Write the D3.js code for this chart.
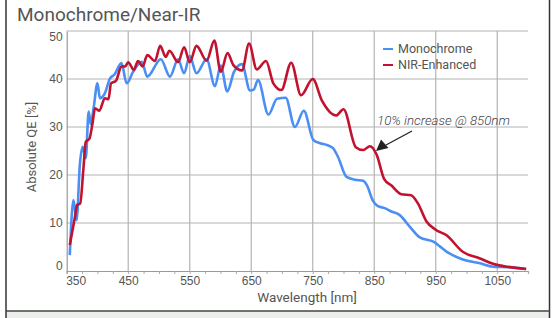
<!DOCTYPE html>
<html>
<head>
<meta charset="utf-8">
<style>
  body { margin: 0; background: #fff; }
  svg { display: block; font-family: Roboto, "Noto Sans", sans-serif; }
</style>
</head>
<body>
<svg id="chart" width="555" height="318"></svg>
<script src="https://cdn.jsdelivr.net/npm/d3@7"></script>
<script>
// tick labels
const xTicks = [350, 450, 550, 650, 750, 850, 950, 1050];
const yTicks = [0, 10, 20, 30, 40, 50];
const seriesNames = ["Monochrome", "NIR-Enhanced"];

// Monochrome: wavelength [nm] and QE [%]
const monoWl = [355, 361, 366, 371.6, 376, 381, 385.7, 389, 394, 400, 404, 412, 420, 428, 439, 447.5, 458, 472, 481,
  503, 518, 531, 541, 550, 561, 577.5, 591, 600.5, 611, 622, 635, 648, 654, 661, 678, 692, 706, 721, 735.5, 751, 762,
  772, 783, 791, 805, 819, 832, 838, 848, 856, 867, 878, 891, 908, 924, 946, 968, 994, 1022, 1043, 1070, 1097];
const monoQE = [3.3, 14.8, 10.6, 22.5, 25.9, 23.5, 33.2, 30.6, 34.2, 39.1, 36, 37, 40, 41, 43.3, 39.1, 41.5, 43.6, 40.5,
  44.1, 40.5, 44.1, 41.2, 44.8, 41.2, 44.1, 38.5, 42.8, 37.4, 41.5, 43.1, 37.6, 37.8, 39.8, 32.6, 35.9, 36.1, 30, 33.4, 27.3, 26.6,
  26.3, 25.6, 23.8, 19.6, 19, 18.8, 17.9, 14.6, 13.5, 13.1, 12.4, 11.7, 9.2, 7, 6.1, 4, 2.4, 1.6, 0.9, 0.8, 0.4];

// NIR-Enhanced
const nirWl = [355, 363.5, 367, 372, 377, 381, 387, 392, 396, 403, 412, 418, 422, 430, 439, 445, 450, 459, 466, 473.5,
  481, 493.5, 502, 511, 517, 531, 541, 550, 561, 577.5, 590, 600.5, 611.5, 621, 635, 646.5, 659, 674, 686, 699, 715,
  731, 750, 765, 788, 800, 820, 832, 843, 854, 866, 878, 894, 910, 921, 935, 951, 967, 994, 1022, 1043, 1065, 1097];
const nirQE = [5.4, 11.3, 13.75, 14.1, 21, 26.9, 27.6, 30.8, 33.9, 33.4, 36, 35.8, 39.1, 39.6, 42.6, 42.6, 43.5, 41.9, 43.75, 42.6,
  45, 43.75, 46.9, 44.6, 45.9, 43.5, 46.6, 43.5, 46.9, 43.8, 48, 41.5, 45.4, 42.9, 41.8, 47.4, 42, 43.75, 39.1, 37.7, 43.4,
  36.6, 40, 35.5, 32.4, 33.7, 25.8, 25.2, 26, 24.2, 19.2, 17.8, 16, 15.8, 14.1, 10.3, 8.5, 7.5, 4, 2.6, 1.5, 0.9, 0.4];

const colors = ["#4a8ff3", "#c1122f"];
const svg = d3.select("#chart");

const x = d3.scaleLinear().domain([350, 1100]).range([66.7, 528]);
const y = d3.scaleLinear().domain([0, 50]).range([271, 31]);

// frame
svg.append("rect").attr("x", 6).attr("y", 311).attr("width", 543).attr("height", 8).attr("fill", "#eceeec");
svg.append("line").attr("x1", 6).attr("x2", 6).attr("y1", 0).attr("y2", 318).attr("stroke", "#333").attr("stroke-width", 1.5);
svg.append("line").attr("x1", 549.5).attr("x2", 549.5).attr("y1", 0).attr("y2", 318).attr("stroke", "#333").attr("stroke-width", 1.5);
svg.append("line").attr("x1", 6).attr("x2", 550).attr("y1", 311).attr("y2", 311).attr("stroke", "#444").attr("stroke-width", 1.5);

// title
svg.append("text").attr("x", 17).attr("y", 21).attr("font-size", 19).attr("fill", "#555").text("Monochrome/Near-IR");

// gridlines
svg.append("g").selectAll("line").data(yTicks.slice(1)).join("line")
  .attr("x1", x(350)).attr("x2", x(1100)).attr("y1", d => y(d)).attr("y2", d => y(d))
  .attr("stroke", "#b4b4b4").attr("stroke-width", 1.2);
svg.append("g").selectAll("line").data(xTicks.slice(1)).join("line")
  .attr("x1", d => x(d)).attr("x2", d => x(d)).attr("y1", y(0)).attr("y2", y(50))
  .attr("stroke", "#b4b4b4").attr("stroke-width", 1.2);

// x axis
const xAxis = svg.append("g").attr("transform", `translate(0,${y(0)})`)
  .call(d3.axisBottom(x).tickValues(d3.range(350, 1101, 25)).tickSize(3).tickFormat(d => xTicks.includes(d) ? d : ""));
xAxis.select(".domain").attr("stroke", "#999").attr("stroke-width", 1.2);
xAxis.selectAll(".tick line").attr("stroke", "#aaa");
xAxis.selectAll(".tick text").attr("font-size", 12).attr("fill", "#555").attr("font-family", null).attr("dy", "0.68em")
  .filter(d => d === 350).attr("text-anchor", "start").attr("dx", -1);

// y axis
const yAxis = svg.append("g").attr("transform", `translate(${x(350)},0)`)
  .call(d3.axisLeft(y).tickValues(yTicks).tickSize(0).tickPadding(4));
yAxis.select(".domain").attr("stroke", "#999").attr("stroke-width", 1.2);
yAxis.selectAll(".tick text").attr("font-size", 12).attr("fill", "#555").attr("font-family", null)
  .attr("dy", d => d === 0 ? "-0.1em" : d === 50 ? "0.75em" : "0.32em");

// axis titles
svg.append("text").attr("x", 307).attr("y", 301.5).attr("text-anchor", "middle")
  .attr("font-size", 13.5).attr("fill", "#555").text("Wavelength [nm]");
svg.append("text").attr("transform", "translate(36,147) rotate(-90)").attr("text-anchor", "middle")
  .attr("font-size", 13).attr("fill", "#555").text("Absolute QE [%]");

// lines
const line = d3.line().x(d => x(d[0])).y(d => y(d[1])).curve(d3.curveMonotoneX);
const series = [d3.zip(monoWl, monoQE), d3.zip(nirWl, nirQE)];
svg.append("g").selectAll("path").data(series).join("path")
  .attr("d", line).attr("fill", "none")
  .attr("stroke", (d, i) => colors[i]).attr("stroke-width", 2.6).attr("stroke-linejoin", "round");

// legend
const legend = svg.append("g").selectAll("g").data(seriesNames).join("g")
  .attr("transform", (d, i) => `translate(383,${49 + i * 16})`);
legend.append("line").attr("x1", 0).attr("x2", 10).attr("stroke", (d, i) => colors[i]).attr("stroke-width", 2);
legend.append("text").attr("x", 15).attr("dy", "0.35em").attr("font-size", 12.5).attr("fill", "#555").text(d => d);

// annotation
svg.append("text").attr("x", 377).attr("y", 125).attr("font-size", 13.3).attr("font-style", "italic")
  .attr("font-weight", 300).attr("fill", "#444").text("10% increase @ 850nm");
svg.append("line").attr("x1", 412).attr("y1", 131).attr("x2", 386).attr("y2", 145).attr("stroke", "#222").attr("stroke-width", 1.3);
svg.append("path").attr("d", "M376,151 L381,139.5 L388.5,148 Z").attr("fill", "#222");
</script>
</body>
</html>
